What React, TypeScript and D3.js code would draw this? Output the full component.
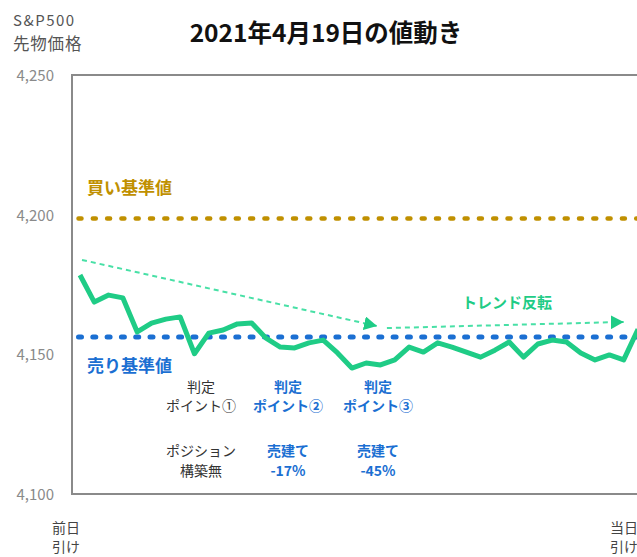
import React from "react";
import * as d3 from "d3";

// S&P500 futures, 10-min bars from prior close (index 0) to today's close
const prices = [
  4178.4, 4168.7, 4171.2, 4170.2, 4158.0, 4161.2, 4162.6, 4163.4, 4150.2, 4157.6,
  4158.7, 4160.9, 4161.2, 4155.8, 4152.6, 4152.3, 4154.1, 4155.1, 4150.5, 4145.1,
  4146.9, 4146.2, 4148.0, 4152.6, 4150.8, 4154.1, 4152.6, 4150.8, 4149.0, 4151.5,
  4154.4, 4149.0, 4153.7, 4155.1, 4154.4, 4150.5, 4148.0, 4149.8, 4148.0, 4159.0,
];
const yTicks = [4100, 4150, 4200, 4250];
const buyLevel = 4198.6;
const sellLevel = 4156.2;
// trend arrows: [startIndex, startValue, endIndex, endValue]
const trendArrows = [
  [0.14, 4183.8, 20.76, 4160.1],
  [21.45, 4159.4, 38.0, 4161.6],
];
const points = [
  { x: 201, lines: ["判定", "ポイント①"], pos: ["ポジション", "構築無"], blue: false },
  { x: 288, lines: ["判定", "ポイント②"], pos: ["売建て", "-17%"], blue: true },
  { x: 378, lines: ["判定", "ポイント③"], pos: ["売建て", "-45%"], blue: true },
];

const W = 637;
const H = 557;
const font = "'Noto Sans CJK JP', 'Noto Sans', sans-serif";
const green = "#1fcc86";
const lightGreen = "#48e0a6";
const gold = "#c09000";
const blue = "#1b6fd2";

export default function App() {
  const x = d3.scaleLinear().domain([0, prices.length - 1]).range([80, 638]);
  const y = d3.scaleLinear().domain([4100, 4250]).range([494, 75]);
  const frameLeft = 72;
  const frameRight = 700;

  const line = d3
    .line<number>()
    .x((d, i) => x(i))
    .y((d) => y(d));

  return (
    <svg
      width={W}
      height={H}
      style={{ position: "absolute", left: 0, top: 0, background: "#fff" }}
      fontFamily={font}
    >
      <defs>
        <marker
          id="arrow"
          markerUnits="userSpaceOnUse"
          markerWidth={14}
          markerHeight={14}
          refX={13}
          refY={7}
          orient="auto"
        >
          <path d="M0,0 L13,7 L0,14 Z" fill={green} />
        </marker>
      </defs>

      {/* title */}
      <text x={326} y={42} textAnchor="middle" fontSize={24.5} fontWeight="bold" fill="#111">
        2021年4月19日の値動き
      </text>

      {/* axis title */}
      <text x={13} y={26} fontSize={15} letterSpacing={1.5} fill="#555">S&amp;P500</text>
      <text x={13} y={50} fontSize={16.5} letterSpacing={0.8} fill="#555">先物価格</text>

      {/* frame */}
      <rect
        x={frameLeft}
        y={y(4250)}
        width={frameRight - frameLeft}
        height={y(4100) - y(4250)}
        fill="none"
        stroke="#8a8a8a"
        strokeWidth={2}
      />

      {yTicks.map((t) => (
        <text key={t} x={54} y={y(t) + 6} textAnchor="end" fontSize={15} fill="#8a8a8a">
          {d3.format(",")(t)}
        </text>
      ))}

      {/* reference levels */}
      <line
        x1={78.5}
        x2={frameRight}
        y1={y(buyLevel)}
        y2={y(buyLevel)}
        stroke={gold}
        strokeWidth={4.5}
        strokeDasharray="3 11.3"
        strokeLinecap="round"
      />
      <line
        x1={78.5}
        x2={frameRight}
        y1={y(sellLevel)}
        y2={y(sellLevel)}
        stroke={blue}
        strokeWidth={5}
        strokeDasharray="3 11.3"
        strokeLinecap="round"
      />
      <text x={87} y={194} fontSize={17} fontWeight="bold" fill={gold}>買い基準値</text>
      <text x={87} y={372} fontSize={17} fontWeight="bold" fill={blue}>売り基準値</text>

      {/* trend arrows */}
      {trendArrows.map((a, i) => (
        <line
          key={i}
          x1={x(a[0])}
          y1={y(a[1])}
          x2={x(a[2])}
          y2={y(a[3])}
          stroke={lightGreen}
          strokeWidth={2}
          strokeDasharray="5 4"
          markerEnd="url(#arrow)"
        />
      ))}
      <text x={507} y={308} textAnchor="middle" fontSize={15} fontWeight="bold" fill={green}>
        トレンド反転
      </text>

      {/* price */}
      <path
        d={line(prices) ?? ""}
        fill="none"
        stroke={green}
        strokeWidth={5}
        strokeLinejoin="round"
      />

      {/* judgement points */}
      {points.map((p) => (
        <g
          key={p.x}
          textAnchor="middle"
          fontSize={14}
          fill={p.blue ? blue : "#333"}
          fontWeight={p.blue ? "bold" : "normal"}
        >
          <text x={p.x} y={392}>{p.lines[0]}</text>
          <text x={p.x} y={411}>{p.lines[1]}</text>
          <text x={p.x} y={456}>{p.pos[0]}</text>
          <text x={p.x} y={476}>{p.pos[1]}</text>
        </g>
      ))}

      {/* x labels */}
      <g fontSize={14} fill="#444" textAnchor="middle">
        <text x={66} y={533}>前日</text>
        <text x={66} y={552}>引け</text>
        <text x={624} y={533}>当日</text>
        <text x={624} y={552}>引け</text>
      </g>
    </svg>
  );
}
